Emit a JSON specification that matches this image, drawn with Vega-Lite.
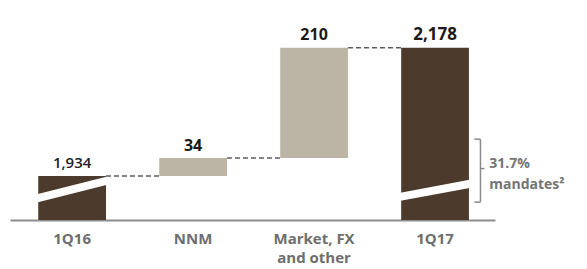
{
  "$schema": "https://vega.github.io/schema/vega-lite/v6.json",
  "width": 485,
  "height": 210,
  "autosize": {"type": "none"},
  "padding": {"left": 10, "top": 10, "right": 92, "bottom": 49},
  "config": {
    "view": {"stroke": null},
    "font": "Open Sans",
    "text": {"font": "Open Sans"}
  },
  "datasets": {
    "bars": [
      {"cat": "1Q16", "start": 0, "end": 1934, "label": "1,934", "kind": "total", "weight": "normal", "size": 15},
      {"cat": "NNM", "start": 1934, "end": 1968, "label": "34", "kind": "delta", "weight": "bold", "size": 16},
      {"cat": "Market, FX and other", "start": 1968, "end": 2178, "label": "210", "kind": "delta", "weight": "bold", "size": 16},
      {"cat": "1Q17", "start": 0, "end": 2178, "label": "2,178", "kind": "total", "weight": "bold", "size": 17}
    ],
    "stripes": [
      {"cat": "1Q16", "ya": 1891, "yb": 1925},
      {"cat": "1Q17", "ya": 1894, "yb": 1919}
    ],
    "connectors": [
      {"from": "1Q16", "to": "NNM", "level": 1934},
      {"from": "NNM", "to": "Market, FX and other", "level": 1968},
      {"from": "Market, FX and other", "to": "1Q17", "level": 2178}
    ]
  },
  "encoding": {
    "x": {
      "field": "cat",
      "type": "nominal",
      "scale": {"domain": ["1Q16", "NNM", "Market, FX and other", "1Q17"], "paddingInner": 0.44, "paddingOuter": 0.2245, "align": 0.52},
      "axis": {
        "title": null,
        "ticks": false,
        "labelAngle": 0,
        "labelFont": "Open Sans",
        "labelFontSize": 15,
        "labelFontWeight": "bold",
        "labelColor": "#6e6e6e",
        "labelPadding": 11,
        "labelLineHeight": 19,
        "labelExpr": "datum.label == 'Market, FX and other' ? ['Market, FX', 'and other'] : datum.label",
        "domainColor": "#8c8c8c",
        "domainWidth": 2
      }
    }
  },
  "layer": [
    {
      "data": {"name": "bars"},
      "mark": {"type": "bar", "clip": true},
      "encoding": {
        "y": {"field": "end", "type": "quantitative", "scale": {"domain": [1880, 2223], "zero": false}, "axis": null},
        "y2": {"field": "start"},
        "color": {"field": "kind", "type": "nominal", "scale": {"domain": ["total", "delta"], "range": ["#4c3b2d", "#bcb5a6"]}, "legend": null}
      }
    },
    {
      "data": {"name": "stripes"},
      "mark": {"type": "rule", "color": "#ffffff", "strokeWidth": 8, "strokeCap": "butt", "clip": true},
      "encoding": {
        "x": {"field": "cat", "type": "nominal", "bandPosition": -0.02},
        "x2": {"field": "cat", "bandPosition": 1.02},
        "y": {"field": "ya", "type": "quantitative"},
        "y2": {"field": "yb"}
      }
    },
    {
      "data": {"name": "connectors"},
      "mark": {"type": "rule", "color": "#5e5e5e", "strokeWidth": 1.5, "strokeDash": [5, 3]},
      "encoding": {
        "x": {"field": "from", "type": "nominal", "bandPosition": 1},
        "x2": {"field": "to", "bandPosition": 0},
        "y": {"field": "level", "type": "quantitative"}
      }
    },
    {
      "data": {"name": "bars"},
      "transform": [{"filter": "datum.weight == 'bold'"}],
      "mark": {"type": "text", "baseline": "alphabetic", "dy": -7.5, "color": "#1a1a1a", "fontWeight": "bold"},
      "encoding": {
        "y": {"field": "end", "type": "quantitative"},
        "text": {"field": "label"},
        "size": {"field": "size", "type": "quantitative", "scale": null}
      }
    },
    {
      "data": {"name": "bars"},
      "transform": [{"filter": "datum.weight == 'normal'"}],
      "mark": {"type": "text", "baseline": "alphabetic", "dy": -8, "color": "#222222", "fontWeight": 600},
      "encoding": {
        "y": {"field": "end", "type": "quantitative"},
        "text": {"field": "label"},
        "size": {"field": "size", "type": "quantitative", "scale": null}
      }
    },
    {
      "data": {"values": [{}]},
      "mark": {"type": "rule", "color": "#8a8a8a", "strokeWidth": 1.5},
      "encoding": {
        "x": {"datum": "1Q17", "bandPosition": 1.17},
        "y": {"datum": 2004},
        "y2": {"datum": 1884}
      }
    },
    {
      "data": {"values": [{"lvl": 2004}, {"lvl": 1884}]},
      "mark": {"type": "rule", "color": "#8a8a8a", "strokeWidth": 1.5},
      "encoding": {
        "x": {"datum": "1Q17", "bandPosition": 1.08},
        "x2": {"datum": "1Q17", "bandPosition": 1.17},
        "y": {"field": "lvl", "type": "quantitative"}
      }
    },
    {
      "data": {"values": [{}]},
      "mark": {"type": "rule", "color": "#8a8a8a", "strokeWidth": 1.5},
      "encoding": {
        "x": {"datum": "1Q17", "bandPosition": 1.17},
        "x2": {"datum": "1Q17", "bandPosition": 1.23},
        "y": {"datum": 1948}
      }
    },
    {
      "data": {"values": [{}]},
      "mark": {"type": "text", "align": "left", "baseline": "alphabetic", "fontSize": 14, "fontWeight": "bold", "color": "#747474", "lineHeight": 21, "text": ["31.7%", "mandates²"]},
      "encoding": {
        "x": {"datum": "1Q17", "bandPosition": 1.3},
        "y": {"datum": 1950}
      }
    }
  ]
}
